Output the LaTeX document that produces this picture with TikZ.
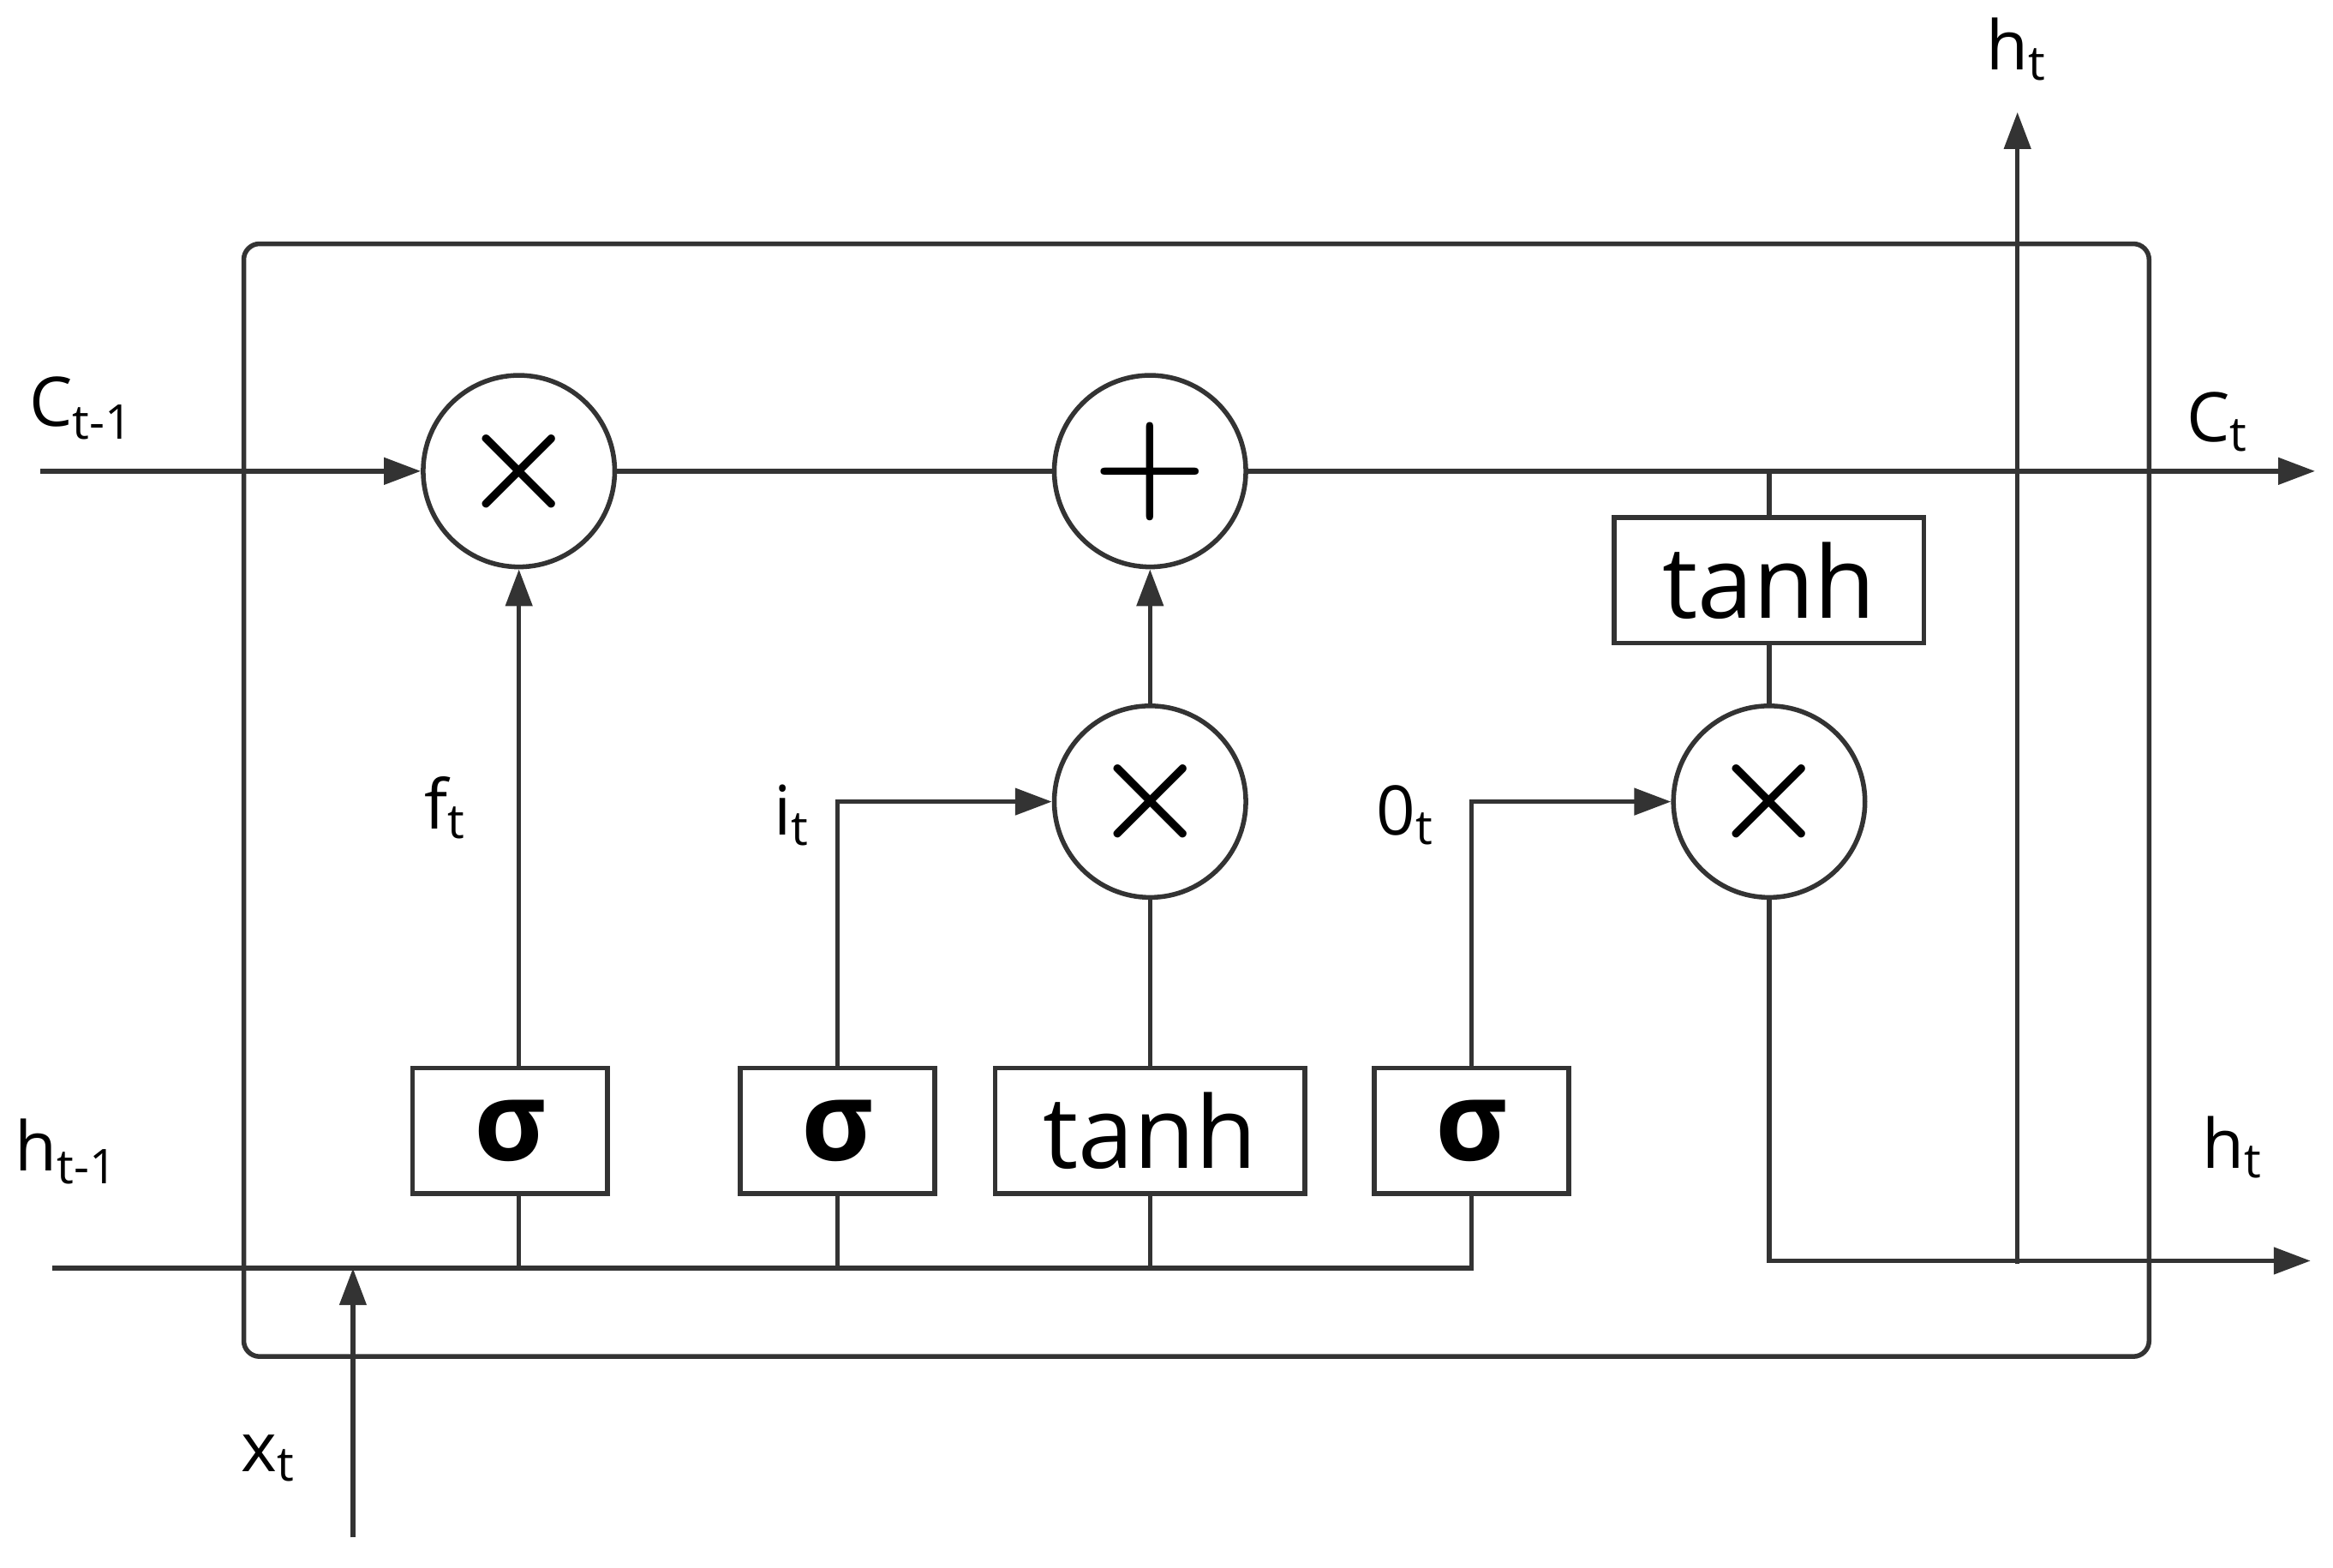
\documentclass[tikz,border=0pt]{standalone}
\usepackage{fontspec}
\setmainfont{Open Sans}
\usetikzlibrary{arrows.meta}
\tikzset{
  wire/.style={line width=0.9pt, draw=black!80},
  arr/.style={wire, -{Triangle[length=7pt,width=5pt]}},
  op/.style={circle, wire, minimum size=1.28cm, inner sep=0pt, font=\fontsize{30}{30}\selectfont\boldmath},
  gate/.style={rectangle, wire, minimum width=1.3cm, minimum height=0.84cm, inner sep=0pt, font=\fontsize{21}{21}\selectfont\bfseries},
  tgate/.style={gate, minimum width=2.07cm, font=\fontsize{19}{19}\selectfont},
  lbl/.style={font=\fontsize{13}{13}\selectfont}
}
\begin{document}
\begin{tikzpicture}[x=0.01cm, y=-0.01cm]
\useasboundingbox (0,0) rectangle (1560,1048);
% cell
\draw[wire, rounded corners=3pt] (163,163) rectangle (1437,907);
% operators
\node[op] (mulf) at (347,315) {$\times$};
\node[op] (add) at (769,315) {$+$};
\node[op] (muli) at (769,536) {$\times$};
\node[op] (mulo) at (1183,536) {$\times$};
% gates
\node[gate] (sf) at (341,756) {σ};
\node[gate] (si) at (560,756) {σ};
\node[tgate] (tc) at (769,756) {tanh};
\node[gate] (so) at (984,756) {σ};
\node[tgate] (th) at (1183,388) {tanh};
% free ends
\coordinate (cin) at (27,315);
\coordinate (cout) at (1548,315);
\coordinate (hin) at (35,848);
\coordinate (xin) at (236,1028);
\coordinate (xend) at (236,848);
\coordinate (hout) at (1545,843);
\coordinate (hup0) at (1349,845);
\coordinate (hup) at (1349,75);
% cell state
\draw[arr] (cin) -- (mulf);
\draw[wire] (mulf) -- (add);
\draw[arr] (add) -- (cout);
\draw[wire] (th.north) -- (th.north |- cout);
\draw[wire] (th) -- (mulo);
% input line
\draw[wire] (hin) -- (hin -| so) -- (so.south);
\draw[wire] (sf.south -| mulf) -- (hin -| mulf);
\draw[wire] (si.south) -- (hin -| si);
\draw[wire] (tc.south) -- (hin -| tc);
\draw[arr] (xin) -- (xend);
% gates to operators
\draw[arr] (sf.north -| mulf) -- (mulf);
\draw[arr] (si.north) |- (muli);
\draw[wire] (tc) -- (muli);
\draw[arr] (muli) -- (add);
\draw[arr] (so.north) |- (mulo);
% output
\draw[arr] (mulo) |- (hout);
\draw[arr] (hup0) -- (hup);
% labels
\node[lbl] (lc0) at (55,273) {C\textsubscript{t-1}};
\node[lbl] (lc1) at (1483,282) {C\textsubscript{t}};
\node[lbl] (lh0) at (45,770) {h\textsubscript{t-1}};
\node[lbl] (lh1) at (1493,767) {h\textsubscript{t}};
\node[lbl] (lh2) at (1349,33) {h\textsubscript{t}};
\node[lbl] (lx) at (180,975) {x\textsubscript{t}};
\node[lbl] (lf) at (298,540) {f\textsubscript{t}};
\node[lbl] (li) at (530,545) {i\textsubscript{t}};
\node[lbl] (lo) at (940,545) {0\textsubscript{t}};
\end{tikzpicture}
\end{document}
